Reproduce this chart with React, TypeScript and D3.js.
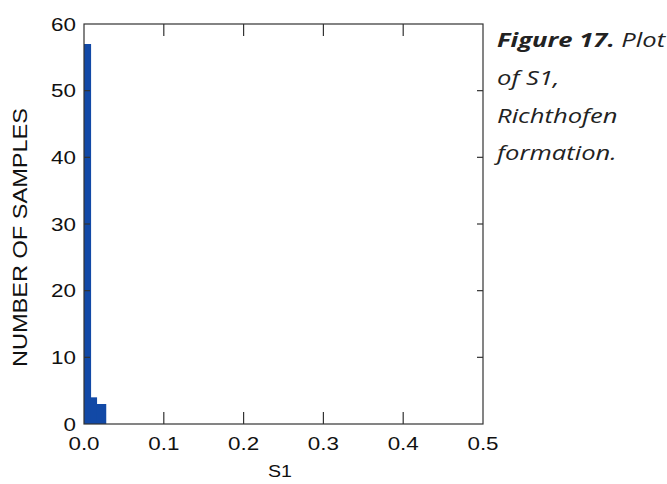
import React from "react";
import * as d3 from "d3";

const binEdges = [0, 0.0085, 0.016, 0.0275];
const binCounts = [57, 4, 3];
const xTicks = [0, 0.1, 0.2, 0.3, 0.4, 0.5];
const yTicks = [0, 10, 20, 30, 40, 50, 60];
const captionBold = "Figure 17.";
const captionLines = ["Plot", "of S1,", "Richthofen", "formation."];

export default function App() {
  const W = 667, H = 484;
  const m = { left: 84, top: 24, right: 483, bottom: 424 };
  const x = d3.scaleLinear().domain([0, 0.5]).range([m.left, m.right]);
  const y = d3.scaleLinear().domain([0, 60]).range([m.bottom, m.top]);
  const axisColor = "#333";
  const font = "'Liberation Sans', Arial, sans-serif";
  const capFont = "'Open Sans', 'Lato', sans-serif";
  const sx = 1.28;
  const bins = binCounts.map((c, i) => ({ x0: binEdges[i], x1: binEdges[i + 1], c }));
  return (
    <svg width={W} height={H} style={{ position: "absolute", left: 0, top: 0, background: "#fff" }}>
      <rect x={0} y={0} width={W} height={H} fill="#fff" />
      {bins.map((b, i) => (
        <rect key={i} x={x(b.x0)} y={y(b.c)} width={x(b.x1) - x(b.x0) + 0.3} height={y(0) - y(b.c)} fill="#1249a6" />
      ))}
      <rect x={m.left} y={m.top} width={m.right - m.left} height={m.bottom - m.top} fill="none" stroke={axisColor} strokeWidth={1.2} />
      {xTicks.map((t, i) => (
        <g key={"x" + i}>
          {i > 0 && i < xTicks.length - 1 && (
            <>
              <line x1={x(t)} x2={x(t)} y1={m.bottom} y2={m.bottom - 12} stroke={axisColor} strokeWidth={1.2} />
              <line x1={x(t)} x2={x(t)} y1={m.top} y2={m.top + 12} stroke={axisColor} strokeWidth={1.2} />
            </>
          )}
          <text transform={`translate(${x(t)},450) scale(${sx},1)`} textAnchor="middle" fontFamily={font} fontSize={17.5} fill="#111">{t.toFixed(1)}</text>
        </g>
      ))}
      {yTicks.map((t, i) => (
        <g key={"y" + i}>
          {i > 0 && i < yTicks.length - 1 && (
            <>
              <line x1={m.left} x2={m.left + 6} y1={y(t)} y2={y(t)} stroke={axisColor} strokeWidth={1.2} />
              <line x1={m.right} x2={m.right - 6} y1={y(t)} y2={y(t)} stroke={axisColor} strokeWidth={1.2} />
            </>
          )}
          <text transform={`translate(76,${y(t) + 6.5}) scale(${sx},1)`} textAnchor="end" fontFamily={font} fontSize={17.5} fill="#111">{t}</text>
        </g>
      ))}
      <text transform={`translate(280,476.5) scale(1.2,1)`} textAnchor="middle" fontFamily={font} fontSize={16.3} fill="#111">S1</text>
      <text transform={`translate(27,237.5) rotate(-90)`} textAnchor="middle" fontFamily={font} fontSize={19.5} textLength={259} lengthAdjust="spacingAndGlyphs" fill="#111">NUMBER OF SAMPLES</text>
      <text transform={`translate(497,47) scale(${sx},1)`} fontFamily={capFont} fontSize={20} fontStyle="italic" fill="#222">
        <tspan fontWeight="bold">{captionBold}</tspan> {captionLines[0]}
      </text>
      {captionLines.slice(1).map((l, i) => (
        <text key={l} transform={`translate(497,${85 + i * 37.7}) scale(${sx},1)`} fontFamily={capFont} fontSize={20} fontStyle="italic" fill="#222">{l}</text>
      ))}
    </svg>
  );
}
